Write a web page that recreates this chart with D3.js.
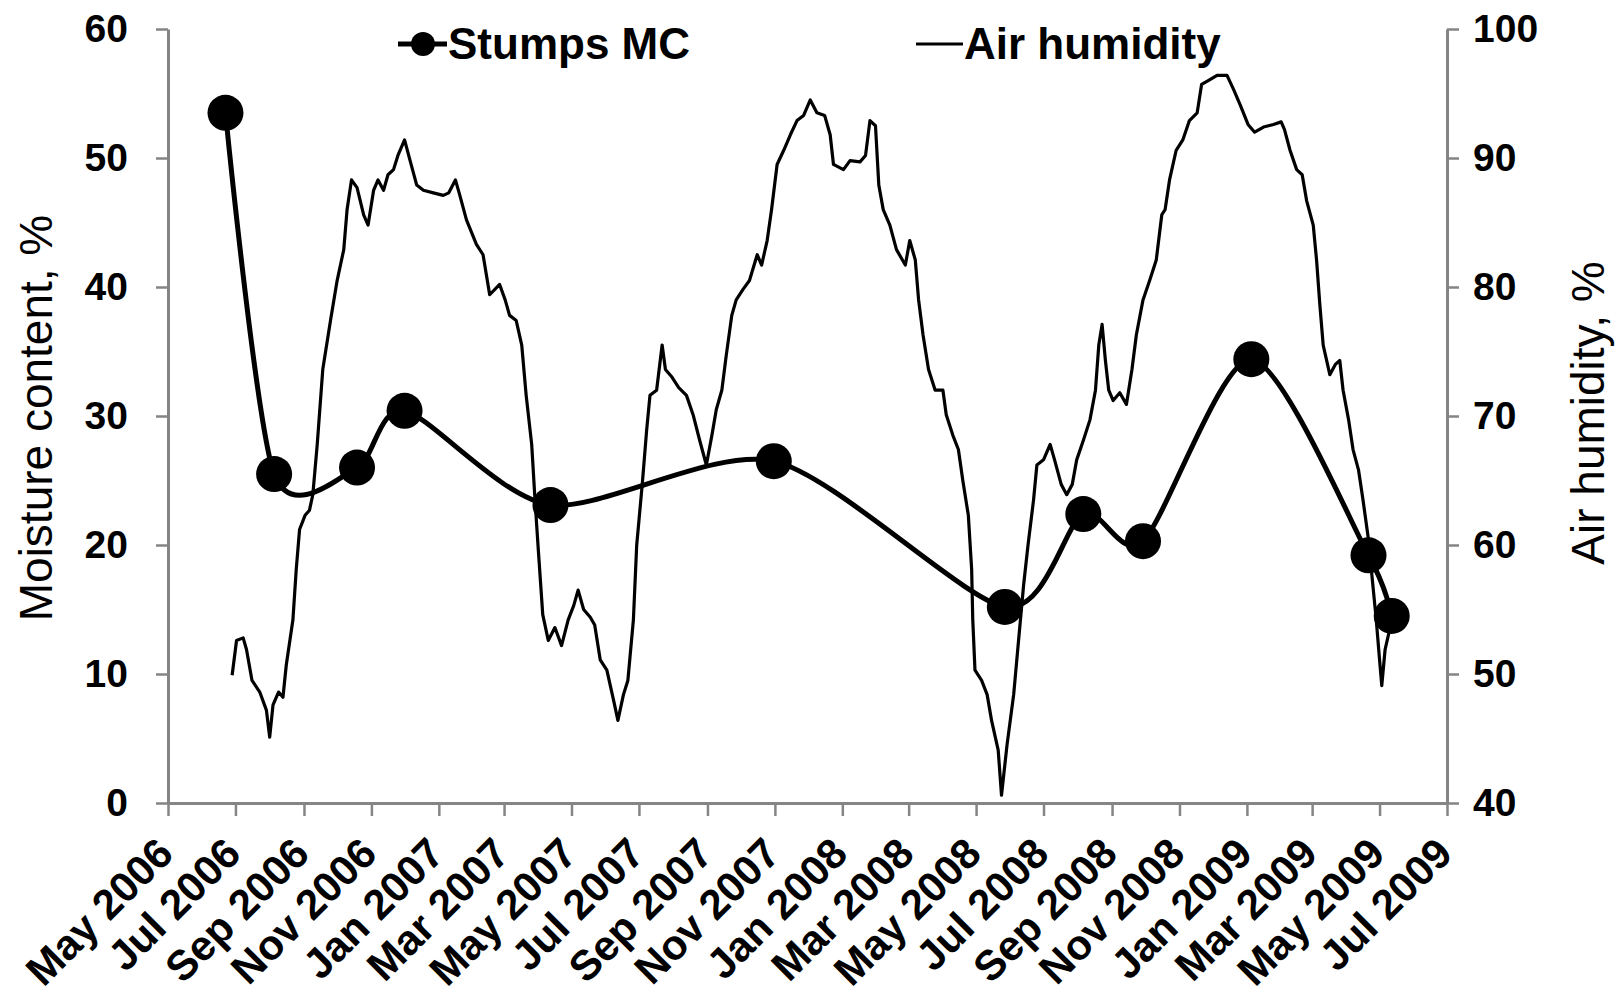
<!DOCTYPE html>
<html>
<head>
<meta charset="utf-8">
<script src="https://cdn.jsdelivr.net/npm/d3@7"></script>
<style>
  body { margin: 0; background: #fff; }
  text { font-family: "Liberation Sans", Arial, sans-serif; fill: #000; }
</style>
</head>
<body>
<svg id="chart" width="1623" height="998"></svg>
<script>
// stumps moisture content, sampling dates and values (left axis, %)
const mcDates = ["2006-06-22", "2006-08-05", "2006-10-19", "2006-12-01", "2007-04-12", "2007-10-31",
                 "2008-05-27", "2008-08-06", "2008-09-29", "2009-01-05", "2009-04-21", "2009-05-12"];
const mcValues = [53.5, 25.5, 26.0, 30.4, 23.1, 26.5, 15.2, 22.4, 20.3, 34.4, 19.2, 14.5];

// air humidity, days since 1 May 2006 and value (right axis, %)
const humStart = "2006-05-01";
const humDays = [58, 62, 68, 71, 76, 83, 89, 92, 95, 100, 104, 107, 113, 116, 119, 124, 128, 131, 135, 140,
  147, 153, 159, 162, 166, 171, 177, 181, 186, 190, 195, 199, 204, 208, 214, 219, 225, 231, 240, 249,
  254, 260, 264, 270, 279, 285, 291, 300, 305, 309, 315, 320, 324, 329, 332, 335, 339, 344, 350, 356,
  362, 367, 371, 376, 382, 386, 391, 397, 403, 407, 412, 416, 421, 424, 429, 433, 436, 442, 447, 450,
  456, 462, 469, 475, 481, 487, 492, 496, 501, 505, 510, 514, 520, 526, 533, 537, 542, 546, 551, 557,
  563, 569, 575, 581, 587, 594, 599, 602, 611, 617, 626, 631, 635, 640, 643, 647, 653, 659, 667, 671,
  676, 679, 683, 688, 694, 701, 704, 710, 715, 719, 724, 727, 728, 730, 736, 741, 745, 751, 754, 759,
  765, 769, 774, 778, 783, 786, 792, 798, 802, 808, 813, 818, 822, 828, 834, 839, 842, 845, 848, 851,
  855, 861, 867, 872, 876, 882, 888, 894, 899, 902, 906, 912, 918, 924, 931, 935, 941, 949, 958, 964,
  970, 977, 983, 991, 1000, 1007, 1010, 1015, 1021, 1026, 1030, 1036, 1039, 1042, 1045, 1051, 1056, 1060, 1063, 1068,
  1072, 1077, 1081, 1086, 1089, 1093, 1096, 1098, 1101, 1105, 1108];
const humValues = [49.9, 52.6, 52.8, 51.9, 49.5, 48.6, 47.2, 45.1, 47.6, 48.6, 48.2, 50.7, 54.2, 58.1, 61.2, 62.3, 62.7, 63.9, 67.8, 73.6,
  77.4, 80.5, 82.9, 86.0, 88.3, 87.7, 85.6, 84.8, 87.5, 88.3, 87.5, 88.7, 89.1, 90.2, 91.4, 89.8, 87.9, 87.5, 87.3, 87.1,
  87.3, 88.3, 87.1, 85.2, 83.3, 82.5, 79.4, 80.2, 79.0, 77.8, 77.4, 75.5, 71.6, 67.8, 63.5, 59.6, 54.6, 52.6, 53.6, 52.2,
  54.2, 55.3, 56.5, 55.0, 54.4, 53.8, 51.1, 50.3, 48.0, 46.4, 48.4, 49.5, 54.2, 60.0, 64.7, 68.9, 71.6, 72.0, 75.5, 73.6,
  73.0, 72.2, 71.6, 70.1, 68.1, 66.2, 68.5, 70.5, 72.0, 74.7, 77.8, 79.0, 79.8, 80.5, 82.5, 81.7, 83.6, 86.0, 89.5, 90.6,
  91.8, 92.9, 93.3, 94.5, 93.5, 93.3, 91.8, 89.5, 89.1, 89.8, 89.7, 90.2, 92.9, 92.5, 87.9, 86.0, 84.8, 82.9, 81.7, 83.6,
  82.1, 79.0, 76.3, 73.6, 72.0, 72.0, 70.1, 68.5, 67.4, 65.0, 62.3, 58.1, 54.2, 50.3, 49.5, 48.4, 46.4, 44.1, 40.6, 44.5,
  48.4, 52.2, 56.9, 60.0, 63.5, 66.2, 66.6, 67.8, 66.6, 64.7, 63.9, 64.7, 66.6, 68.1, 69.7, 72.0, 75.5, 77.1, 74.3, 72.0,
  71.2, 71.8, 70.9, 73.6, 76.3, 79.0, 80.5, 82.1, 85.6, 86.0, 88.3, 90.6, 91.4, 92.9, 93.5, 95.7, 96.0, 96.4, 96.4, 95.3,
  94.1, 92.6, 92.0, 92.4, 92.6, 92.8, 92.2, 90.6, 89.1, 88.7, 86.7, 84.8, 82.1, 78.6, 75.5, 73.2, 74.0, 74.3, 72.0, 69.7,
  67.4, 65.8, 63.5, 60.4, 57.7, 54.2, 51.1, 49.1, 51.9, 53.4, 54.2];

const leftTicks = [0, 10, 20, 30, 40, 50, 60];
const rightTicks = [40, 50, 60, 70, 80, 90, 100];
const xDomain = ["2006-05-01", "2009-07-01"];
const seriesNames = ["Stumps MC", "Air humidity"];

const parse = d3.timeParse("%Y-%m-%d");
const svg = d3.select("#chart");
svg.append("rect").attr("width", 1623).attr("height", 998).attr("fill", "#fff");

const plotLeft = 168, plotRight = 1447, plotTop = 29, plotBottom = 803;
const axisGrey = "#858585";

const x = d3.scaleTime().domain(xDomain.map(parse)).range([plotLeft, plotRight]);
const yL = d3.scaleLinear().domain([0, 60]).range([plotBottom, plotTop]);
const yR = d3.scaleLinear().domain([40, 100]).range([plotBottom, plotTop]);

// x axis
const gx = svg.append("g")
    .attr("transform", `translate(0,${plotBottom})`)
    .call(d3.axisBottom(x).ticks(d3.timeMonth.every(2)).tickSize(13).tickSizeOuter(0).tickFormat(d3.timeFormat("%b %Y")));
gx.selectAll("text")
    .attr("text-anchor", "end")
    .attr("y", 0).attr("dy", 0)
    .attr("transform", "translate(7,53) rotate(-45)")
    .style("font-size", "42px").style("font-weight", "bold");

// left axis
const gl = svg.append("g")
    .attr("transform", `translate(${plotLeft},0)`)
    .call(d3.axisLeft(yL).tickValues(leftTicks).tickSize(12).tickSizeOuter(0).tickPadding(28));
gl.selectAll("text").style("font-size", "39px").style("font-weight", "bold");

// right axis
const gr = svg.append("g")
    .attr("transform", `translate(${plotRight},0)`)
    .call(d3.axisRight(yR).tickValues(rightTicks).tickSize(12).tickSizeOuter(0).tickPadding(14));
gr.selectAll("text").style("font-size", "39px").style("font-weight", "bold");

svg.selectAll(".domain").attr("stroke", axisGrey).attr("stroke-width", 3);
svg.selectAll(".tick line").attr("stroke", axisGrey).attr("stroke-width", 2.5);
svg.selectAll(".tick text").attr("fill", "#000");

// axis titles
svg.append("text")
    .attr("transform", "translate(52,418) rotate(-90)")
    .attr("text-anchor", "middle")
    .style("font-size", "46px")
    .text("Moisture content, %");
svg.append("text")
    .attr("transform", "translate(1604,413) rotate(-90)")
    .attr("text-anchor", "middle")
    .style("font-size", "46px")
    .text("Air humidity, %");

// air humidity line
const t0 = parse(humStart);
const hum = humDays.map((d, i) => ({ date: d3.timeDay.offset(t0, d), v: humValues[i] }));
svg.append("path")
    .datum(hum)
    .attr("d", d3.line().x(d => x(d.date)).y(d => yR(d.v)))
    .attr("fill", "none")
    .attr("stroke", "#000")
    .attr("stroke-width", 3.2)
    .attr("stroke-linejoin", "round");

// stumps MC smoothed line with markers
const mc = mcDates.map((d, i) => ({ date: parse(d), v: mcValues[i] }));
svg.append("path")
    .datum(mc)
    .attr("d", d3.line().x(d => x(d.date)).y(d => yL(d.v)).curve(d3.curveCardinal.tension(0.2)))
    .attr("fill", "none")
    .attr("stroke", "#000")
    .attr("stroke-width", 5);
svg.selectAll(".mc-dot")
    .data(mc)
    .join("circle")
    .attr("class", "mc-dot")
    .attr("cx", d => x(d.date))
    .attr("cy", d => yL(d.v))
    .attr("r", 18)
    .attr("fill", "#000");

// legend
const legY = 44;
svg.append("line").attr("x1", 398).attr("x2", 447).attr("y1", legY).attr("y2", legY)
    .attr("stroke", "#000").attr("stroke-width", 5);
svg.append("circle").attr("cx", 423).attr("cy", legY).attr("r", 12).attr("fill", "#000");
svg.append("text").attr("x", 448).attr("y", legY + 15)
    .style("font-size", "44px").style("font-weight", "bold").text(seriesNames[0]);
svg.append("line").attr("x1", 916).attr("x2", 963).attr("y1", legY).attr("y2", legY)
    .attr("stroke", "#000").attr("stroke-width", 3.2);
svg.append("text").attr("x", 964).attr("y", legY + 15)
    .style("font-size", "44px").style("font-weight", "bold").text(seriesNames[1]);
</script>
</body>
</html>
